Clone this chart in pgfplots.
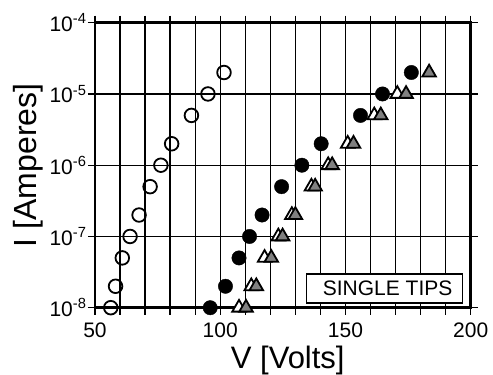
\documentclass[border=0pt]{standalone}
\usepackage{fontspec}
\setmainfont{Liberation Sans}
\usepackage{pgfplots}
\pgfplotsset{compat=1.18}
\begin{document}
\begin{tikzpicture}
\useasboundingbox (-95pt,-67.3pt) rectangle (398pt,307.7pt);
\begin{axis}[
  scale only axis,
  width=375.7pt, height=285pt,
  xmin=50, xmax=200,
  ymode=log, ymin=1e-8, ymax=1e-4,
  xtick={50,100,150,200},
  xticklabels={50,100,150,200},
  minor xtick={60,70,80,90,110,120,130,140,160,170,180,190},
  ytick={1e-8,1e-7,1e-6,1e-5,1e-4},
  yticklabels={10\textsuperscript{-8},10\textsuperscript{-7},10\textsuperscript{-6},10\textsuperscript{-5},10\textsuperscript{-4}},
  yminorticks=false,
  xmajorgrids, xminorgrids, ymajorgrids,
  grid style={line width=1.3pt, black},
  minor grid style={line width=1.3pt, black},
  tick align=outside,
  major tick length=7pt, minor tick length=7pt,
  tick style={line width=1.3pt, black},
  axis line style={line width=2.8pt},
  xticklabel style={font=\fontsize{21}{24}\selectfont, yshift=-7pt, inner sep=1pt},
  yticklabel style={font=\fontsize{21}{24}\selectfont, xshift=2pt},
  xlabel={V [Volts]},
  ylabel={I [Amperes]},
  xlabel style={font=\fontsize{31}{36}\selectfont, at={(axis description cs:0.513,-0.215)}, anchor=base},
  ylabel style={font=\fontsize{32}{36}\selectfont, at={(axis description cs:-0.155,0.5)}, anchor=base, rotate=0},
  clip=false,
]
% open circles
\addplot[only marks, mark=o, mark size=6.8pt, line width=1.8pt, black] coordinates {
(56.3,1e-8) (58.2,2e-8) (60.9,5e-8) (64.0,1e-7) (67.6,2e-7) (72.0,5e-7)
(76.3,1e-6) (80.6,2e-6) (88.5,5e-6) (95.1,1e-5) (101.5,2e-5)
};
% filled circles
\addplot[only marks, mark=*, mark size=7.2pt, black, mark options={fill=black}] coordinates {
(96.0,1e-8) (102.1,2e-8) (107.5,5e-8) (111.7,1e-7) (116.7,2e-7) (124.5,5e-7)
(132.6,1e-6) (140.3,2e-6) (156.0,5e-6) (164.8,1e-5) (176.3,2e-5)
};
% open triangles
\addplot[only marks, mark=triangle*, mark size=7.8pt, line width=1.8pt, black, mark options={fill=white}] coordinates {
(107.5,1e-8) (112.4,2e-8) (117.7,5e-8) (123.2,1e-7) (128.6,2e-7) (136.4,5e-7)
(143.1,1e-6) (150.9,2e-6) (161.5,5e-6) (170.7,1e-5)
};
% gray triangles
\addplot[only marks, mark=triangle*, mark size=7.8pt, line width=1.8pt, black, mark options={fill=gray}] coordinates {
(110.3,1e-8) (114.4,2e-8) (120.4,5e-8) (124.9,1e-7) (130.0,2e-7) (137.9,5e-7)
(144.7,1e-6) (153.2,2e-6) (164.1,5e-6) (174.2,1e-5) (183.4,2e-5)
};
\node[draw, line width=1.4pt, fill=white, minimum width=156pt, minimum height=29pt, inner sep=0pt,
  font=\fontsize{21}{24}\selectfont] at (axis description cs:0.771,0.067) {\hspace{6pt}SINGLE TIPS};
\end{axis}
\end{tikzpicture}
\end{document}
